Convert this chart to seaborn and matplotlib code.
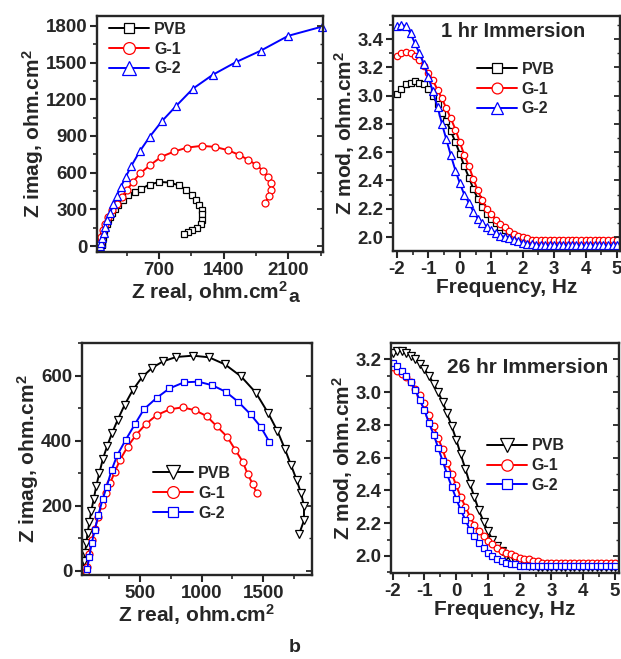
import matplotlib
matplotlib.use('Agg')
import matplotlib.pyplot as plt
import seaborn as sns
import pandas as pd
from matplotlib.ticker import MultipleLocator

sns.set_style('ticks')
plt.rcParams['font.family'] = ['Liberation Sans', 'DejaVu Sans']
plt.rcParams['font.weight'] = 'bold'
plt.rcParams['axes.labelweight'] = 'bold'
plt.rcParams['axes.unicode_minus'] = False
plt.rcParams['mathtext.fontset'] = 'custom'
plt.rcParams['mathtext.rm'] = 'Liberation Sans:bold'
plt.rcParams['mathtext.bf'] = 'Liberation Sans:bold'
plt.rcParams['mathtext.it'] = 'Liberation Sans:bold'

# ---- Nyquist, 1 hr immersion ----
pvb_1h_zre = [78, 80, 84, 89, 96, 106, 118, 133, 150, 170, 195, 225, 260, 313, 367, 438, 509,
              598, 705, 819, 918, 997, 1054, 1096, 1132, 1161, 1161, 1161, 1150, 1114, 1061, 1018, 972]
pvb_1h_zim = [5, 18, 38, 62, 90, 120, 150, 180, 210, 240, 270, 300, 332, 373, 414, 441, 468,
              503, 524, 519, 495, 460, 419, 378, 338, 297, 259, 216, 176, 151, 130, 111, 95]
g1_1h_zre = [50, 57, 71, 93, 117, 153, 189, 242, 295, 356, 420, 498, 605, 726, 865, 1007, 1161,
             1303, 1445, 1566, 1666, 1755, 1826, 1880, 1908, 1915, 1887, 1851]
g1_1h_zim = [3, 22, 76, 130, 184, 238, 292, 346, 400, 460, 527, 595, 662, 730, 773, 805, 819,
             811, 784, 746, 705, 662, 616, 568, 514, 460, 405, 351]
g2_1h_zre = [64, 71, 82, 100, 117, 142, 171, 206, 242, 285, 342, 402, 491, 598, 733, 883, 1068,
             1282, 1531, 1801, 2100, 2470]
g2_1h_zim = [0, 22, 62, 108, 157, 211, 270, 341, 405, 481, 568, 657, 773, 892, 1022, 1143, 1287,
             1400, 1503, 1597, 1719, 1795]

# ---- Bode |Z|, log frequency axis ----
log_freq = [-2.00, -1.86, -1.71, -1.57, -1.43, -1.29, -1.14, -1.00, -0.86, -0.71, -0.57, -0.43,
            -0.29, -0.14, 0.00, 0.14, 0.29, 0.43, 0.57, 0.71, 0.86, 1.00, 1.14, 1.29, 1.43, 1.57,
            1.71, 1.86, 2.00, 2.14, 2.29, 2.43, 2.57, 2.71, 2.86, 3.00, 3.14, 3.29, 3.43, 3.57,
            3.71, 3.86, 4.00, 4.14, 4.29, 4.43, 4.57, 4.71, 4.86, 5.00]

pvb_1h_mod = [3.01, 3.05, 3.08, 3.09, 3.10, 3.09, 3.08, 3.05, 3.00, 2.94, 2.88, 2.82, 2.75,
              2.67, 2.59, 2.50, 2.42, 2.34, 2.27, 2.21, 2.16, 2.13, 2.10, 2.07, 2.05, 2.03,
              2.01, 2.00, 1.98, 1.97, 1.96, 1.96, 1.95, 1.95, 1.95, 1.95, 1.95, 1.95, 1.95,
              1.95, 1.95, 1.95, 1.95, 1.95, 1.95, 1.95, 1.95, 1.95, 1.95, 1.95]
g1_1h_mod = [3.28, 3.30, 3.31, 3.30, 3.28, 3.25, 3.21, 3.16, 3.11, 3.04, 2.98, 2.91, 2.84,
             2.76, 2.67, 2.58, 2.50, 2.41, 2.33, 2.26, 2.20, 2.16, 2.12, 2.09, 2.07, 2.04,
             2.02, 2.01, 2.00, 1.99, 1.98, 1.98, 1.98, 1.98, 1.98, 1.98, 1.98, 1.98, 1.98,
             1.98, 1.98, 1.98, 1.98, 1.98, 1.98, 1.98, 1.98, 1.98, 1.98, 1.98]
g2_1h_mod = [3.49, 3.50, 3.49, 3.44, 3.37, 3.30, 3.22, 3.13, 3.03, 2.92, 2.80, 2.69, 2.58,
             2.47, 2.38, 2.30, 2.24, 2.18, 2.13, 2.10, 2.07, 2.05, 2.03, 2.01, 2.00, 1.99,
             1.98, 1.97, 1.96, 1.95, 1.95, 1.94, 1.94, 1.94, 1.94, 1.94, 1.94, 1.94, 1.94,
             1.94, 1.94, 1.94, 1.94, 1.94, 1.94, 1.94, 1.94, 1.94, 1.94, 1.94]

# ---- Nyquist, 26 hr immersion ----
pvb_26h_zre = [35, 45, 55, 65, 75, 90, 105, 125, 145, 170, 200, 235, 275, 320, 375, 440, 515,
               600, 690, 795, 930, 1060, 1190, 1320, 1440, 1540, 1615, 1675, 1725, 1770, 1805,
               1830, 1830, 1790]
pvb_26h_zim = [5, 30, 55, 85, 115, 150, 185, 220, 260, 300, 345, 385, 425, 465, 510, 555, 595,
               625, 645, 658, 662, 657, 635, 598, 548, 485, 430, 375, 325, 280, 240, 200, 155, 112]
g1_26h_zre = [62, 73, 89, 108, 135, 162, 189, 224, 257, 297, 338, 400, 468, 546, 635, 743, 846,
              946, 1041, 1122, 1208, 1271, 1333, 1373, 1414, 1446]
g1_26h_zim = [0, 12, 53, 94, 130, 166, 202, 238, 269, 305, 341, 382, 418, 451, 479, 497, 503,
              494, 476, 445, 412, 373, 336, 298, 267, 240]
g2_26h_zre = [73, 89, 108, 135, 162, 197, 230, 270, 316, 386, 459, 532, 635, 738, 857, 973,
              1086, 1195, 1297, 1398, 1479, 1549]
g2_26h_zim = [7, 43, 84, 127, 171, 220, 258, 310, 356, 404, 451, 497, 532, 561, 580, 582, 571,
              551, 520, 481, 443, 397]

pvb_26h_mod = [3.24, 3.25, 3.25, 3.24, 3.22, 3.20, 3.17, 3.14, 3.10, 3.05, 3.00, 2.94, 2.87,
               2.79, 2.71, 2.62, 2.53, 2.44, 2.36, 2.28, 2.21, 2.15, 2.10, 2.06, 2.03, 2.00,
               1.98, 1.97, 1.96, 1.95, 1.94, 1.94, 1.93, 1.93, 1.93, 1.93, 1.93, 1.93, 1.93,
               1.93, 1.93, 1.93, 1.93, 1.93, 1.93, 1.93, 1.93, 1.93, 1.93, 1.93]
g1_26h_mod = [3.15, 3.13, 3.11, 3.09, 3.06, 3.02, 2.98, 2.93, 2.86, 2.79, 2.72, 2.65, 2.57,
              2.50, 2.43, 2.36, 2.30, 2.24, 2.19, 2.15, 2.12, 2.09, 2.07, 2.05, 2.03, 2.02,
              2.01, 2.00, 1.99, 1.98, 1.98, 1.97, 1.97, 1.96, 1.96, 1.96, 1.96, 1.96, 1.96,
              1.96, 1.96, 1.96, 1.96, 1.96, 1.96, 1.96, 1.96, 1.96, 1.96, 1.96]
g2_26h_mod = [3.18, 3.16, 3.13, 3.10, 3.06, 3.01, 2.95, 2.89, 2.81, 2.74, 2.66, 2.58, 2.50,
              2.42, 2.35, 2.28, 2.22, 2.16, 2.12, 2.08, 2.05, 2.02, 2.00, 1.98, 1.97, 1.96,
              1.95, 1.95, 1.94, 1.94, 1.94, 1.94, 1.94, 1.94, 1.94, 1.94, 1.94, 1.94, 1.94,
              1.94, 1.94, 1.94, 1.94, 1.94, 1.94, 1.94, 1.94, 1.94, 1.94, 1.94]

TICK_FS = 13.5
LABEL_FS = 15
LEG_FS = 11.5


def draw(ax, x, y, label, color, marker, ms, clip=True):
    df = pd.DataFrame({'x': x, 'y': y})
    sns.lineplot(data=df, x='x', y='y', ax=ax, sort=False, estimator=None, label=label,
                 color=color, marker=marker, markersize=ms, markerfacecolor='white',
                 markeredgecolor=color, markeredgewidth=0.9, linewidth=1.4, clip_on=clip)


def style(ax, xlim, ylim, xmaj, xmin, ymaj, ymin, xlabel, ylabel):
    ax.set_xlim(*xlim)
    ax.set_ylim(*ylim)
    ax.xaxis.set_major_locator(MultipleLocator(xmaj))
    ax.xaxis.set_minor_locator(MultipleLocator(xmin))
    ax.yaxis.set_major_locator(MultipleLocator(ymaj))
    ax.yaxis.set_minor_locator(MultipleLocator(ymin))
    ax.tick_params(which='major', direction='out', length=5, width=1.5, labelsize=TICK_FS, pad=2)
    ax.tick_params(which='minor', direction='out', length=3, width=1.2)
    for s in ax.spines.values():
        s.set_linewidth(1.7)
        s.set_visible(True)
    ax.set_xlabel(xlabel, fontsize=LABEL_FS, labelpad=0)
    ax.set_ylabel(ylabel, fontsize=LABEL_FS, labelpad=0)
    # inward ticks mirrored on the right spine
    ax2 = ax.twinx()
    ax2.set_ylim(*ylim)
    ax2.yaxis.set_major_locator(MultipleLocator(ymaj))
    ax2.yaxis.set_minor_locator(MultipleLocator(ymin))
    ax2.tick_params(which='major', direction='in', length=4, width=1.3, labelright=False)
    ax2.tick_params(which='minor', direction='in', length=2.5, width=1.0)
    for s in ax2.spines.values():
        s.set_visible(False)


def legend(ax, x, y):
    ax.legend(loc='upper left', bbox_to_anchor=(x, y), frameon=False, fontsize=LEG_FS,
              markerscale=1.7, handlelength=2.5, handletextpad=0.3, labelspacing=0.3,
              borderaxespad=0, borderpad=0)


fig = plt.figure(figsize=(6.21, 6.59), dpi=100)
W, H = 621, 659


def box(l, r, t, b):
    return [l / W, (H - b) / H, (r - l) / W, (b - t) / H]


ax1 = fig.add_axes(box(97, 323, 16, 252))
ax2 = fig.add_axes(box(393, 620, 16, 251))
ax3 = fig.add_axes(box(82, 312, 343, 575))
ax4 = fig.add_axes(box(391, 619, 343, 573))

zre_lab = r'Z real, ohm.cm$^{2}$'
zim_lab = r'Z imag, ohm.cm$^{2}$'
zmod_lab = r'Z mod, ohm.cm$^{2}$'
freq_lab = 'Frequency, Hz'

# panel a, left
draw(ax1, pvb_1h_zre, pvb_1h_zim, 'PVB', 'black', 's', 4.3)
draw(ax1, g1_1h_zre, g1_1h_zim, 'G-1', 'red', 'o', 5.0)
draw(ax1, g2_1h_zre, g2_1h_zim, 'G-2', 'blue', '^', 6.0, clip=False)
style(ax1, (29, 2476), (-49, 1881), 700, 350, 300, 150, zre_lab, zim_lab)
legend(ax1, 0.055, 0.975)

# panel a, right
draw(ax2, log_freq, pvb_1h_mod, 'PVB', 'black', 's', 4.0)
draw(ax2, log_freq, g1_1h_mod, 'G-1', 'red', 'o', 4.6)
draw(ax2, log_freq, g2_1h_mod, 'G-2', 'blue', '^', 5.3)
style(ax2, (-2.127, 5.095), (1.901, 3.563), 1, 0.5, 0.2, 0.1, freq_lab, zmod_lab)
legend(ax2, 0.37, 0.805)
ax2.text(0.53, 0.935, '1 hr Immersion', transform=ax2.transAxes, ha='center', va='center',
         fontsize=14.5, fontweight='bold')

# panel b, left
draw(ax3, pvb_26h_zre, pvb_26h_zim, 'PVB', 'black', 'v', 6.0)
draw(ax3, g1_26h_zre, g1_26h_zim, 'G-1', 'red', 'o', 5.0)
draw(ax3, g2_26h_zre, g2_26h_zim, 'G-2', 'blue', 's', 4.5)
style(ax3, (30, 1895), (-13, 701), 500, 250, 200, 100, zre_lab, zim_lab)
legend(ax3, 0.31, 0.47)

# panel b, right
draw(ax4, log_freq, pvb_26h_mod, 'PVB', 'black', 'v', 5.6)
draw(ax4, log_freq, g1_26h_mod, 'G-1', 'red', 'o', 4.8)
draw(ax4, log_freq, g2_26h_mod, 'G-2', 'blue', 's', 4.3)
style(ax4, (-2.054, 5.126), (1.896, 3.299), 1, 0.5, 0.2, 0.1, freq_lab, zmod_lab)
legend(ax4, 0.42, 0.585)
ax4.text(0.60, 0.895, '26 hr Immersion', transform=ax4.transAxes, ha='center', va='center',
         fontsize=15, fontweight='bold')

fig.text(294 / W, 1 - 298 / H, 'a', ha='center', va='center', fontsize=14, fontweight='bold')
fig.text(295 / W, 1 - 648 / H, 'b', ha='center', va='center', fontsize=14, fontweight='bold')

fig.savefig('out.png', dpi=100)
